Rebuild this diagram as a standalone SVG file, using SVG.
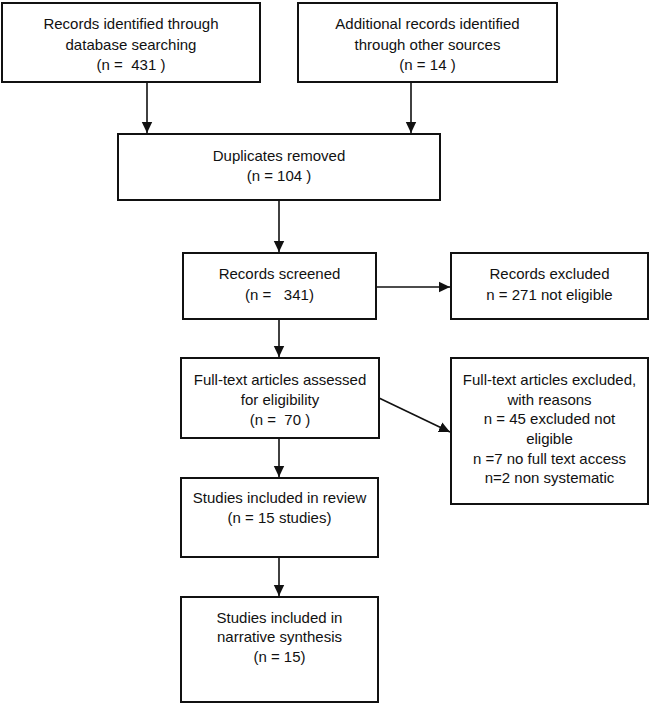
<svg xmlns="http://www.w3.org/2000/svg" width="650" height="704" viewBox="0 0 650 704">
<style>
.box{fill:#fff;stroke:#111;stroke-width:2}
.t{font-family:"Liberation Sans",Arial,sans-serif;font-size:15px;fill:#111;text-anchor:middle}
.c{stroke:#111;stroke-width:1.6;fill:none;marker-end:url(#ah)}
</style>
<defs>
<marker id="ah" markerUnits="userSpaceOnUse" markerWidth="12" markerHeight="12" viewBox="0 0 12 12" refX="11" refY="6" orient="auto">
<path d="M0,0.8 L11,6 L0,11.2 Z" fill="#111"/>
</marker>
</defs>
<rect width="650" height="704" fill="#fff"/>
<g id="connectors">
<line class="c" x1="147" y1="82" x2="147" y2="133"/>
<line class="c" x1="411" y1="82" x2="411" y2="133"/>
<line class="c" x1="279" y1="200" x2="279" y2="252"/>
<line class="c" x1="376" y1="287" x2="450" y2="287"/>
<line class="c" x1="279" y1="319" x2="279" y2="357"/>
<line class="c" x1="379" y1="398" x2="450" y2="432"/>
<line class="c" x1="279" y1="438" x2="279" y2="477"/>
<line class="c" x1="279" y1="557" x2="279" y2="596"/>
</g>
<g id="n1">
<rect class="box" x="2" y="3" width="258" height="79"/>
<text class="t" x="131" y="29">Records identified through</text>
<text class="t" x="131" y="50">database searching</text>
<text class="t" x="131" y="70" xml:space="preserve">(n =  431 )</text>
</g>
<g id="n2">
<rect class="box" x="298" y="3" width="259" height="79"/>
<text class="t" x="427.5" y="29">Additional records identified</text>
<text class="t" x="427.5" y="50">through other sources</text>
<text class="t" x="427.5" y="70">(n = 14 )</text>
</g>
<g id="n3">
<rect class="box" x="118" y="134" width="322" height="66"/>
<text class="t" x="279" y="161">Duplicates removed</text>
<text class="t" x="279" y="181">(n = 104 )</text>
</g>
<g id="n4">
<rect class="box" x="183" y="253" width="193" height="66"/>
<text class="t" x="279.5" y="279">Records screened</text>
<text class="t" x="279.5" y="300" xml:space="preserve">(n =   341)</text>
</g>
<g id="n5">
<rect class="box" x="451" y="253" width="197" height="66"/>
<text class="t" x="549.5" y="279">Records excluded</text>
<text class="t" x="549.5" y="300">n = 271 not eligible</text>
</g>
<g id="n6">
<rect class="box" x="181" y="358" width="198" height="80"/>
<text class="t" x="280" y="385">Full-text articles assessed</text>
<text class="t" x="280" y="405">for eligibility</text>
<text class="t" x="280" y="425" xml:space="preserve">(n =  70 )</text>
</g>
<g id="n7">
<rect class="box" x="451" y="358" width="197" height="146"/>
<text class="t" x="549.5" y="385">Full-text articles excluded,</text>
<text class="t" x="549.5" y="405">with reasons</text>
<text class="t" x="549.5" y="424">n = 45 excluded not</text>
<text class="t" x="549.5" y="444">eligible</text>
<text class="t" x="549.5" y="464">n =7 no full text access</text>
<text class="t" x="549.5" y="483">n=2 non systematic</text>
</g>
<g id="n8">
<rect class="box" x="181" y="478" width="197" height="79"/>
<text class="t" x="279.5" y="503">Studies included in review</text>
<text class="t" x="279.5" y="523">(n = 15 studies)</text>
</g>
<g id="n9">
<rect class="box" x="181" y="597" width="197" height="105"/>
<text class="t" x="279.5" y="623">Studies included in</text>
<text class="t" x="279.5" y="642">narrative synthesis</text>
<text class="t" x="279.5" y="662">(n = 15)</text>
</g>
</svg>
